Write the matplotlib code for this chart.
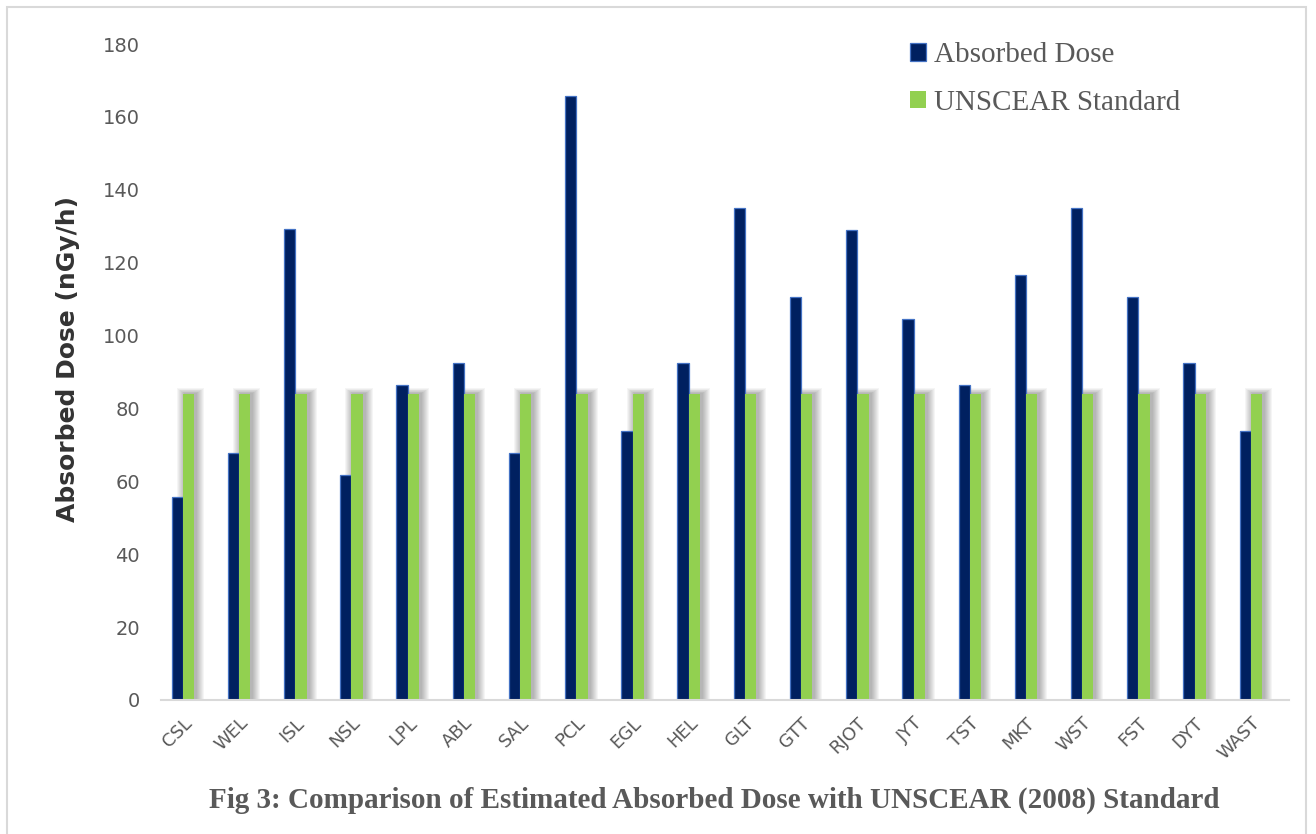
import matplotlib
matplotlib.use('Agg')
import matplotlib.pyplot as plt
from matplotlib.patches import Rectangle
import numpy as np

# %% data
sites = ['CSL', 'WEL', 'ISL', 'NSL', 'LPL', 'ABL', 'SAL', 'PCL', 'EGL', 'HEL',
         'GLT', 'GTT', 'RJOT', 'JYT', 'TST', 'MKT', 'WST', 'FST', 'DYT', 'WAST']
absorbedDose = [55.7, 67.8, 129.2, 61.7, 86.4, 92.5, 67.8, 165.7, 73.8, 92.5,
                135.0, 110.6, 129.0, 104.6, 86.4, 116.6, 135.0, 110.6, 92.5, 73.8]
unscear = [84] * len(sites)

# %% plot
navy = '#002060'
green = '#92D050'
grey = '#595959'

fig = plt.figure(figsize=(13.16, 8.34), dpi=100)
ax = fig.add_axes([0.1223, 0.1607, 0.8572, 0.7865])

x = np.arange(len(sites))
w = 0.2
pxUnit = 1 / 56.2          # one pixel in x data units
pyUnit = 180 / 656         # one pixel in y data units

# soft glow behind the green bars, built from stacked translucent bars
for k in range(1, 9):
    ax.bar(x + w / 2 + 2 * pxUnit, np.array(unscear) + (9 - k) * pyUnit,
           width=w + 2 * (9 - k) * pxUnit, bottom=-(9 - k) * pyUnit * 0.3,
           color='#000000', alpha=0.04, linewidth=0, zorder=1)

ax.bar(x - w / 2, absorbedDose, width=w, color=navy, edgecolor='#4472C4',
       linewidth=0.9, zorder=3, label='Absorbed Dose')
ax.bar(x + w / 2, unscear, width=w, color=green, linewidth=0, zorder=3,
       label='UNSCEAR Standard')

ax.set_xlim(-0.39, 19.68)
ax.set_ylim(0, 180)
ax.set_yticks(range(0, 181, 20))
ax.set_xticks(x)
ax.set_xticklabels(sites, rotation=45, ha='right', rotation_mode='anchor')
ax.tick_params(axis='both', length=0, labelsize=13, colors=grey)
ax.tick_params(axis='y', labelsize=14, pad=15)
ax.tick_params(axis='x', pad=10)
for s in ['top', 'right', 'left']:
    ax.spines[s].set_visible(False)
ax.spines['bottom'].set_color('#d9d9d9')
ax.spines['bottom'].set_linewidth(1.5)
ax.spines['bottom'].set_zorder(4)

ax.set_ylabel('Absorbed Dose (nGy/h)', fontsize=18, fontweight='heavy',
              color='#333333')
ax.yaxis.set_label_coords(-0.072, 0.52)

leg = ax.legend(loc='upper left', bbox_to_anchor=(0.641, 1.043), frameon=False,
                prop={'family': 'Liberation Serif', 'size': 21},
                handlelength=0.55, handleheight=0.55, handletextpad=0.25,
                labelspacing=0.75, labelcolor=grey)

fig.text(0.543, 0.04, 'Fig 3: Comparison of Estimated Absorbed Dose with UNSCEAR (2008) Standard',
         ha='center', va='center', family='Liberation Serif', fontweight='bold',
         fontsize=21, color=grey)

# light border round the whole figure
fig.patches.append(Rectangle((7 / 1316, -0.01), 1299 / 1316, 1 - 7 / 834 + 0.01,
                             transform=fig.transFigure, fill=False,
                             edgecolor='#d9d9d9', linewidth=1.5))

fig.savefig('out.png', dpi=100)
